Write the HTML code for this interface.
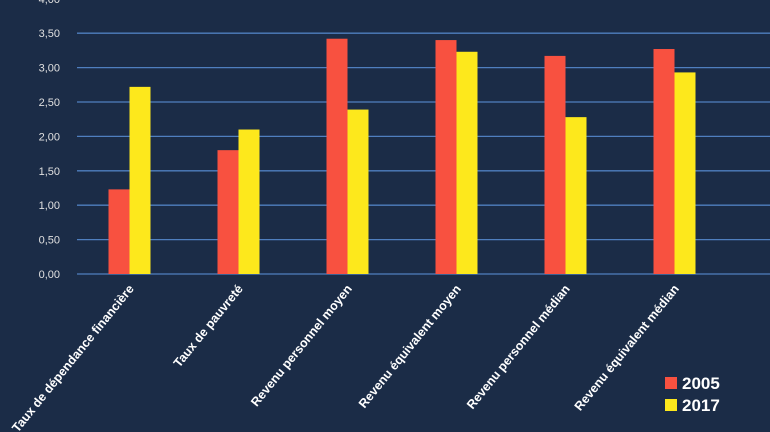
<!DOCTYPE html>
<html><head><meta charset="utf-8"><style>
html,body{margin:0;padding:0;background:#1b2c47;}
svg{display:block;font-family:"Liberation Sans",sans-serif;}
</style></head><body>
<svg id="chart" width="770" height="432" xmlns="http://www.w3.org/2000/svg">
<rect width="770" height="432" fill="#1b2c47"/>
<g id="grid"></g><g id="bars"></g><g id="labels"></g>
<g>
<rect x="665" y="377" width="12" height="12" fill="#f85140"/>
<text x="682" y="389" fill="#fff" font-size="17" font-weight="bold">2005</text>
<rect x="665" y="399" width="12" height="12" fill="#fde81c"/>
<text x="682" y="411" fill="#fff" font-size="17" font-weight="bold">2017</text>
</g>
</svg>
<script>
const categories=["Taux de dépendance financière","Taux de pauvreté","Revenu personnel moyen","Revenu équivalent moyen","Revenu personnel médian","Revenu équivalent médian"];
const values2005=[1.23,1.80,3.42,3.40,3.17,3.27];
const values2017=[2.72,2.10,2.39,3.23,2.28,2.93];
const ticks=[0,0.5,1,1.5,2,2.5,3,3.5,4];
const tickLabels=["0,00","0,50","1,00","1,50","2,00","2,50","3,00","3,50","4,00"];
const NS="http://www.w3.org/2000/svg";
const y0=274, pxPerUnit=68.8, x0=75, band=109, bw=21;
const y=v=>y0-v*pxPerUnit;
const xc=i=>x0+band*(i+0.5);
function mk(tag,attrs,parent){const e=document.createElementNS(NS,tag);for(const k in attrs)e.setAttribute(k,attrs[k]);parent.appendChild(e);return e;}
const grid=document.getElementById('grid'),bars=document.getElementById('bars'),labels=document.getElementById('labels');
ticks.forEach((t,i)=>{
  if(t<4){const l=mk('line',{x1:77,x2:770,y1:y(t),y2:y(t),stroke:'#4f7fbf','stroke-width':1.3},grid);
  
  }
  const tx=mk('text',{x:60,y:y(t)+4,'text-anchor':'end',fill:'#e0e0e0','font-size':11},grid);
  tx.textContent=tickLabels[i];
  
  
});
categories.forEach((c,i)=>{
  const r=mk('rect',{x:xc(i)-bw,y:y(values2005[i]),width:bw,height:values2005[i]*pxPerUnit,fill:'#f85140'},bars);
  
  
  const b=mk('rect',{x:xc(i),y:y(values2017[i]),width:bw,height:values2017[i]*pxPerUnit,fill:'#fde81c'},bars);
  
  
  const t=mk('text',{transform:`translate(${xc(i)+5},${y0+15}) rotate(-51)`,'text-anchor':'end',fill:'#fff','font-size':12.5,'font-weight':'bold'},labels);
  t.textContent=c;
  
  
});
</script>
</body></html>
